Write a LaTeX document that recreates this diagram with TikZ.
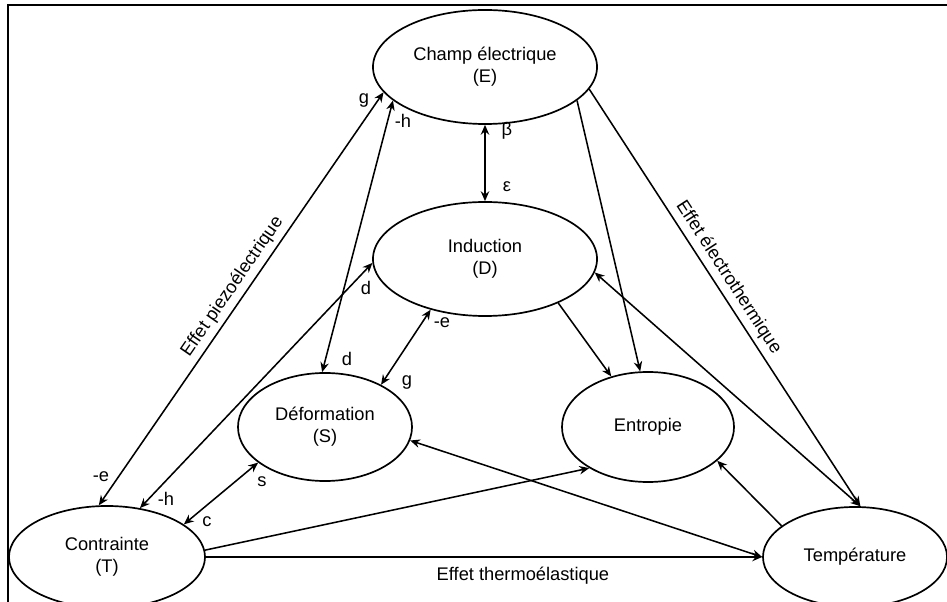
\documentclass[tikz,border=0pt]{standalone}
\usepackage{fontspec}
\setmainfont{Liberation Sans}
\usetikzlibrary{shapes.geometric,arrows.meta}
\begin{document}
\begin{tikzpicture}[x=0.025cm,y=-0.025cm,
  font=\fontsize{13}{15.5}\selectfont,
  etat/.style={draw,ellipse,line width=1.2pt,inner sep=0pt,align=center},
  lien/.style={line width=1.1pt,>={Stealth[length=7pt,width=6pt]}}]
\useasboundingbox (0,0) rectangle (947,602);
\draw[line width=1.3pt] (8,602) -- (8,5) -- (947,5);

\node[etat,minimum width=5.6cm,minimum height=2.85cm] (champ) at (485,67) {Champ électrique\\(E)};
\node[etat,minimum width=5.6cm,minimum height=2.85cm] (induc) at (485,259) {Induction\\(D)};
\node[etat,minimum width=4.35cm,minimum height=2.7cm] (defo) at (325,427) {Déformation\\(S)};
\node[etat,minimum width=4.3cm,minimum height=2.75cm] (entro) at (648,427) {Entropie};
\node[etat,minimum width=4.9cm,minimum height=2.55cm] (contr) at (107,557) {Contrainte\\(T)};
\node[etat,minimum width=4.6cm,minimum height=2.5cm] (temp) at (855,557) {Température};

\draw[lien,<->] (champ.194) -- node[sloped,above,pos=0.49] (piezo) {Effet piezoélectrique} (contr.99);
\draw[lien,<->] (champ.200) -- (defo.93);
\draw[lien,<->] (champ.south) -- (induc.north);
\draw[lien,<->] (induc.182) -- (contr.56);
\draw[lien,<->] (induc.223) -- (defo.37);
\draw[lien,<->] (defo.208) -- (contr.23);
\draw[lien,->] (contr.east) -- node[below=3pt,pos=0.57] (thermo) {Effet thermoélastique} (temp.west);
\draw[lien,->] (contr.4) -- (entro.215);
\draw[lien,<->] (defo.351) -- (temp.west);
\draw[lien,->] (temp.157) -- (entro.334);
\draw[lien,->] (induc.329) -- (entro.126);
\draw[lien,->] (champ.340) -- (entro.98);
\draw[lien,->] (champ.348) -- node[sloped,above,pos=0.47] (electro) {Effet électrothermique} (temp.84);
\draw[lien,<->] (induc.353) -- (temp.84);

\node (g1) at (364,100) {g};
\node (mh1) at (403,121) {-h};
\node (beta) at (507,131) {β};
\node (eps) at (507,187) {ε};
\node (d1) at (366,288) {d};
\node (d2) at (347,359) {d};
\node (me1) at (442,323) {-e};
\node (g2) at (407,382) {g};
\node (me2) at (101,477) {-e};
\node (mh2) at (166,499) {-h};
\node (s) at (262,482) {s};
\node (c) at (207,522) {c};
\end{tikzpicture}
\end{document}
